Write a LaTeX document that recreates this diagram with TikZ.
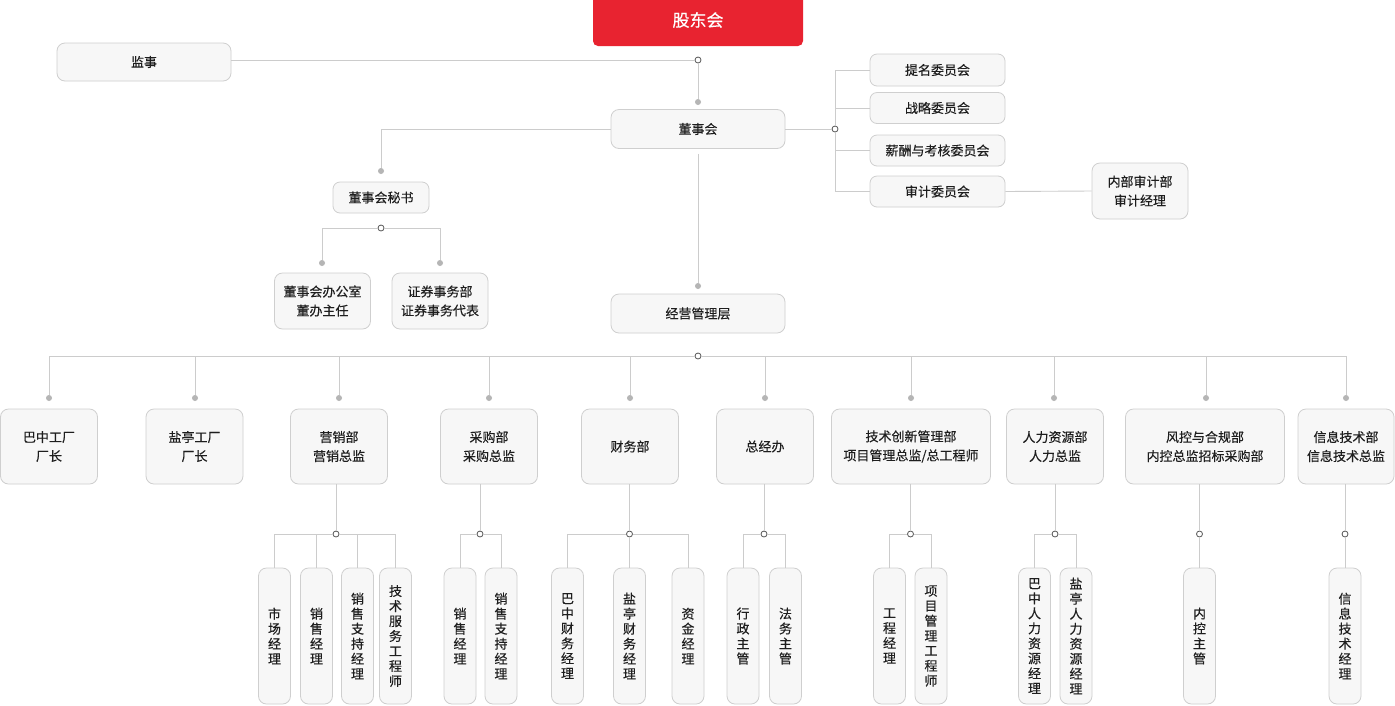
\documentclass[tikz,border=0pt]{standalone}
\usepackage{fontspec}
\setmainfont{Noto Sans CJK SC}[FakeBold=0.3]
\definecolor{ln}{HTML}{CCCCCC}
\definecolor{bd}{HTML}{CFCFCF}
\definecolor{bg}{HTML}{F7F7F7}
\definecolor{tx}{HTML}{1E1E1E}
\definecolor{jcol}{HTML}{555555}
\definecolor{dcol}{HTML}{B5B5B5}
\definecolor{redc}{RGB}{232,35,48}
\tikzset{
 box/.style={draw=bd, fill=bg, rounded corners=8pt, line width=0.8pt, inner sep=0pt, align=center, text=tx, font=\fontsize{13}{19}\selectfont},
 vbox/.style={box, font=\fontsize{13}{15}\selectfont, minimum width=32pt, minimum height=136pt},
 jc/.style={circle, draw=jcol, fill=white, line width=0.8pt, minimum size=6pt, inner sep=0pt},
 dt/.style={circle, fill=dcol, minimum size=6pt, inner sep=0pt},
 conn/.style={draw=ln, line width=0.9pt},
}
\newcommand\mybox[6][]{\node[box,minimum width=#4pt,minimum height=#5pt,#1] (#2) at (#3) {#6};}
\begin{document}
\begin{tikzpicture}[x=1pt,y=-1pt]
\useasboundingbox (0,0) rectangle (1395,705);
\fill[white] (0,0) rectangle (1395,705);
% top
\node[box, draw=none, fill=redc, text=white, rounded corners=5pt, minimum width=210pt, minimum height=52pt, font=\fontsize{17}{20}\selectfont] (gd) at (698,20) {股东会};
\mybox{js}{144,62}{174}{38}{监事}
\node[jc] (j1) at (698,60) {};
\node[dt] (d1) at (698,102) {};
\mybox{dsh}{698,129}{174}{39}{董事会}
\node[dt] (d2) at (381,171) {};
\mybox[rounded corners=7pt]{ms}{381,197.5}{96}{31}{董事会秘书}
\node[jc] (j2) at (381,228) {};
\node[dt] (d3) at (322,263) {};
\node[dt] (d4) at (440,263) {};
\mybox{bgs}{322.5,301}{96}{56}{董事会办公室\\董办主任}
\mybox{zq}{440,301}{96}{56}{证券事务部\\证券事务代表}
% committees
\node[jc] (j3) at (835,129) {};
\mybox[rounded corners=7pt]{tm}{937.5,70}{135}{32}{提名委员会}
\mybox[rounded corners=7pt]{zl}{937.5,108}{135}{31}{战略委员会}
\mybox[rounded corners=7pt]{xc}{937.5,150.5}{135}{31}{薪酬与考核委员会}
\mybox[rounded corners=7pt]{sj}{937.5,191.5}{135}{31}{审计委员会}
\mybox{nb}{1140,191}{96}{56}{内部审计部\\审计经理}
% management
\node[dt] (d5) at (698,286) {};
\mybox{jy}{698,313.5}{174}{39}{经营管理层}
\node[jc] (j4) at (698,356) {};
% level 2 dots
\foreach \n/\x in {A/49,B/195,C/339,D/489,E/630,F/765,G/911,H/1054,I/1206,J/1346}
  \node[dt] (d\n) at (\x,398) {};
% level 2 boxes
\mybox{lA}{49,446.5}{97}{75}{巴中工厂\\厂长}
\mybox{lB}{194.5,446.5}{97}{75}{盐亭工厂\\厂长}
\mybox{lC}{339,446.5}{97}{75}{营销部\\营销总监}
\mybox{lD}{489,446.5}{97}{75}{采购部\\采购总监}
\mybox{lE}{630,446.5}{97}{75}{财务部}
\mybox{lF}{765,446.5}{97}{75}{总经办}
\mybox{lG}{911,446.5}{159}{75}{技术创新管理部\\项目管理总监/总工程师}
\mybox{lH}{1055,446.5}{97}{75}{人力资源部\\人力总监}
\mybox{lI}{1205,446.5}{159}{75}{风控与合规部\\内控总监招标采购部}
\mybox{lJ}{1346,446.5}{96}{75}{信息技术部\\信息技术总监}
% level 3 junctions
\foreach \n/\x in {C/336,D/480,E/629.5,F/764,G/910.5,H/1055,I/1199.5,J/1345}
  \node[jc] (j\n) at (\x,534) {};
% level 3 boxes
\node[vbox] (c1) at (274.5,636) {市\\场\\经\\理};
\node[vbox] (c2) at (316.5,636) {销\\售\\经\\理};
\node[vbox] (c3) at (357.5,636) {销\\售\\支\\持\\经\\理};
\node[vbox] (c4) at (395.5,636) {技\\术\\服\\务\\工\\程\\师};
\node[vbox] (p1) at (460,636) {销\\售\\经\\理};
\node[vbox] (p2) at (501,636) {销\\售\\支\\持\\经\\理};
\node[vbox] (f1) at (567.5,636) {巴\\中\\财\\务\\经\\理};
\node[vbox] (f2) at (629.5,636) {盐\\亭\\财\\务\\经\\理};
\node[vbox] (f3) at (688,636) {资\\金\\经\\理};
\node[vbox] (z1) at (743,636) {行\\政\\主\\管};
\node[vbox] (z2) at (785.5,636) {法\\务\\主\\管};
\node[vbox] (g1) at (889.5,636) {工\\程\\经\\理};
\node[vbox] (g2) at (931,636) {项\\目\\管\\理\\工\\程\\师};
\node[vbox] (h1) at (1034.5,636) {巴\\中\\人\\力\\资\\源\\经\\理};
\node[vbox] (h2) at (1076,636) {盐\\亭\\人\\力\\资\\源\\经\\理};
\node[vbox] (i1) at (1199.5,636) {内\\控\\主\\管};
\node[vbox] (k1) at (1345,636) {信\\息\\技\\术\\经\\理};
% connectors
\begin{scope}[conn]
\draw (js.east |- j1) -- (j1);
\draw (j1) -- (d1);
\draw (dsh.west) -| (d2);
\draw (d3) |- (j2) -| (d4);
\draw (dsh.east) -- (j3);
\draw (j3) |- (tm.west);
\draw (j3) |- (zl.west);
\draw (j3) |- (xc.west);
\draw (j3) |- (sj.west);
\draw (sj.east) -- (nb.west);
\draw ([yshift=-5pt]dsh.south) -- (d5);
\draw (dA) |- (j4) -| (dJ);
\foreach \n in {B,C,D,E,F,G,H,I} \draw (d\n) -- (d\n |- j4);
\foreach \n in {C,D,E,F,G,H,I,J} \draw (l\n.south -| j\n) -- (j\n);
\draw (c1.north) |- (jC) -| (c4.north);
\draw (c2.north) -- (c2.north |- jC);
\draw (c3.north) -- (c3.north |- jC);
\draw (p1.north) |- (jD) -| (p2.north);
\draw (f1.north) |- (jE) -| (f3.north);
\draw (f2.north) -- (jE);
\draw (z1.north) |- (jF) -| (z2.north);
\draw (g1.north) |- (jG) -| (g2.north);
\draw (h1.north) |- (jH) -| (h2.north);
\draw (jI) -- (i1.north);
\draw (jJ) -- (k1.north);
\end{scope}
\end{tikzpicture}
\end{document}
